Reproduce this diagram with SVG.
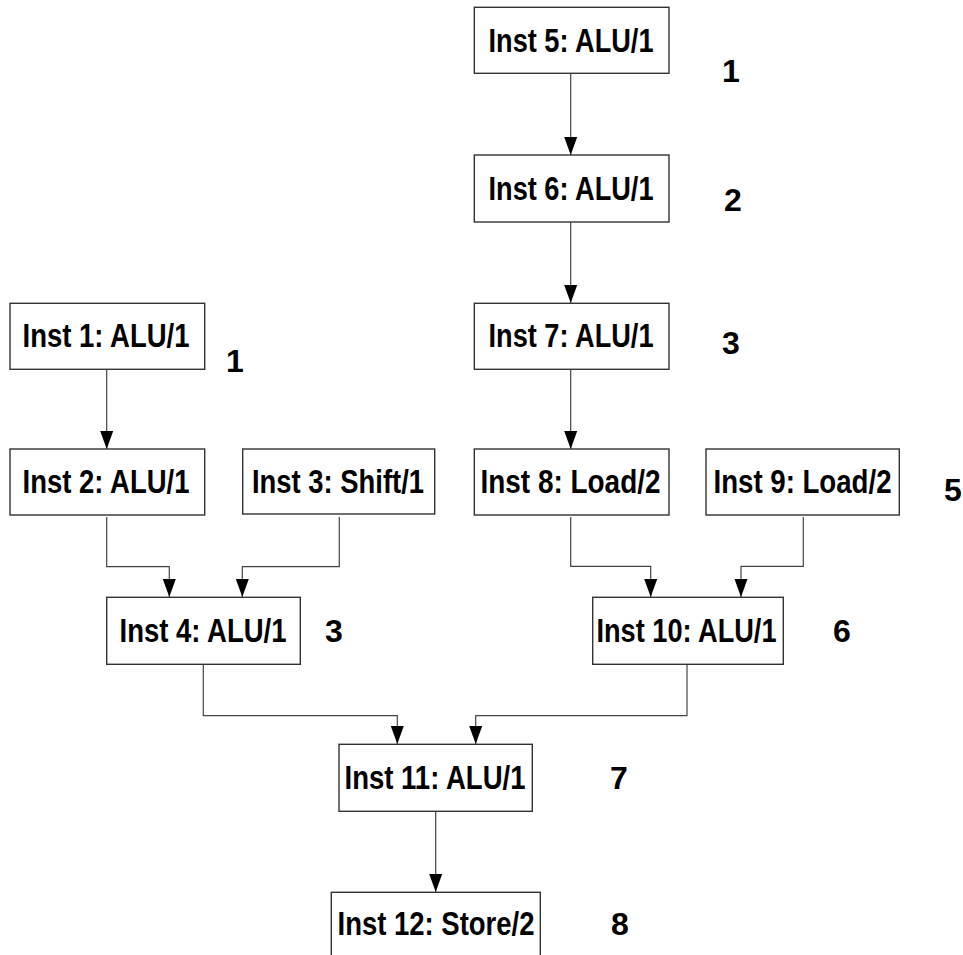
<svg xmlns="http://www.w3.org/2000/svg" width="963" height="955" viewBox="0 0 963 955">
<style>
.box{fill:#fff;stroke:#333;stroke-width:1.4}
.t{font-family:"Liberation Sans",Arial,sans-serif;font-weight:bold;font-size:34px;fill:#000;text-anchor:middle}
.n{font-family:"Liberation Sans",Arial,sans-serif;font-weight:bold;font-size:32px;fill:#000}
.c{fill:none;stroke:#444;stroke-width:1.2}
</style>
<defs>
<marker id="ah" markerUnits="userSpaceOnUse" markerWidth="18" markerHeight="14" viewBox="0 0 18 14" refX="18" refY="7" orient="auto">
<path d="M0,0.5 L18,7 L0,13.5 z" fill="#000"/>
</marker>
</defs>
<rect width="963" height="955" fill="#fff"/>
<g id="connectors">
<path class="c" d="M570.7,73 V155" marker-end="url(#ah)"/>
<path class="c" d="M570.7,222 V303" marker-end="url(#ah)"/>
<path class="c" d="M570.7,369 V449" marker-end="url(#ah)"/>
<path class="c" d="M106.7,369 V449" marker-end="url(#ah)"/>
<path class="c" d="M106.7,517 V566.7 H169.3 V597" marker-end="url(#ah)"/>
<path class="c" d="M339.3,517 V566.7 H242.3 V597" marker-end="url(#ah)"/>
<path class="c" d="M570.7,517 V566.3 H650.7 V597" marker-end="url(#ah)"/>
<path class="c" d="M803.3,517 V566.3 H741 V597" marker-end="url(#ah)"/>
<path class="c" d="M203.3,664 V715.7 H397.3 V744" marker-end="url(#ah)"/>
<path class="c" d="M687,664 V715.7 H475.7 V744" marker-end="url(#ah)"/>
<path class="c" d="M435.7,811 V892" marker-end="url(#ah)"/>
</g>
<g id="n1"><rect class="box" x="10" y="303.3" width="194.7" height="66"/><text class="t" x="106" y="347" textLength="167" lengthAdjust="spacingAndGlyphs">Inst 1: ALU/1</text></g>
<g id="n2"><rect class="box" x="10" y="449" width="194.7" height="66"/><text class="t" x="106" y="493" textLength="167" lengthAdjust="spacingAndGlyphs">Inst 2: ALU/1</text></g>
<g id="n3"><rect class="box" x="242.7" y="449" width="192" height="65"/><text class="t" x="338" y="493" textLength="172" lengthAdjust="spacingAndGlyphs">Inst 3: Shift/1</text></g>
<g id="n4"><rect class="box" x="106.7" y="597.3" width="193.6" height="67"/><text class="t" x="203" y="642" textLength="167" lengthAdjust="spacingAndGlyphs">Inst 4: ALU/1</text></g>
<g id="n5"><rect class="box" x="474.3" y="7.3" width="194.7" height="66"/><text class="t" x="571" y="52" textLength="165" lengthAdjust="spacingAndGlyphs">Inst 5: ALU/1</text></g>
<g id="n6"><rect class="box" x="474.3" y="155" width="194.7" height="67"/><text class="t" x="571" y="200" textLength="165" lengthAdjust="spacingAndGlyphs">Inst 6: ALU/1</text></g>
<g id="n7"><rect class="box" x="474.3" y="303.3" width="194.7" height="66"/><text class="t" x="571" y="347" textLength="165" lengthAdjust="spacingAndGlyphs">Inst 7: ALU/1</text></g>
<g id="n8"><rect class="box" x="474.3" y="449" width="194.7" height="66"/><text class="t" x="570.5" y="493" textLength="180" lengthAdjust="spacingAndGlyphs">Inst 8: Load/2</text></g>
<g id="n9"><rect class="box" x="706" y="449" width="193.3" height="66"/><text class="t" x="802.5" y="493" textLength="178" lengthAdjust="spacingAndGlyphs">Inst 9: Load/2</text></g>
<g id="n10"><rect class="box" x="592.7" y="597.3" width="190.6" height="67"/><text class="t" x="686.5" y="642" textLength="180" lengthAdjust="spacingAndGlyphs">Inst 10: ALU/1</text></g>
<g id="n11"><rect class="box" x="339" y="744.3" width="193.3" height="67"/><text class="t" x="435" y="789" textLength="181" lengthAdjust="spacingAndGlyphs">Inst 11: ALU/1</text></g>
<g id="n12"><rect class="box" x="331.3" y="892.3" width="209" height="67"/><text class="t" x="436" y="935" textLength="197" lengthAdjust="spacingAndGlyphs">Inst 12: Store/2</text></g>
<g id="labels">
<text class="n" x="722" y="82">1</text>
<text class="n" x="724" y="211">2</text>
<text class="n" x="722" y="354">3</text>
<text class="n" x="226" y="372">1</text>
<text class="n" x="944" y="501">5</text>
<text class="n" x="325" y="642">3</text>
<text class="n" x="833" y="642">6</text>
<text class="n" x="610" y="789">7</text>
<text class="n" x="611" y="935">8</text>
</g>
</svg>
